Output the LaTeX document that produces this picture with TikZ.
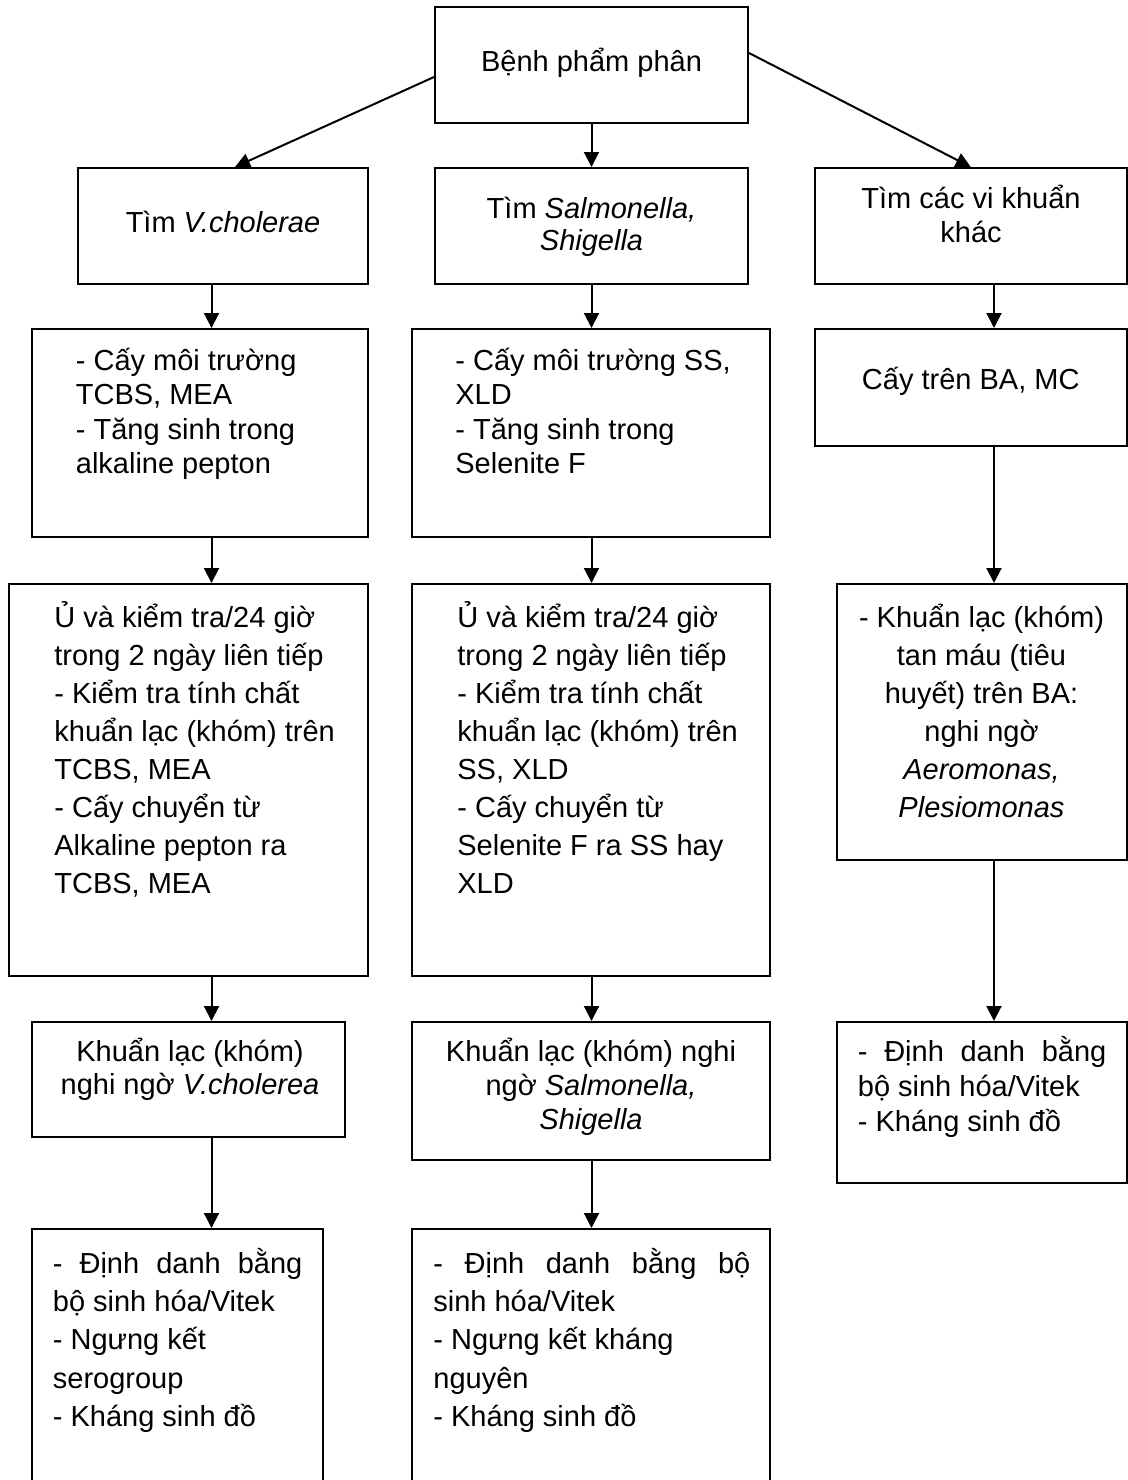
\documentclass[tikz,border=0pt]{standalone}
\usepackage{fontspec}
\setmainfont{Liberation Sans}
\usetikzlibrary{arrows.meta,fit}

\begin{document}
\begin{tikzpicture}[x=0.5pt,y=-0.5pt,
  box/.style={draw, line width=1pt, inner sep=0pt},
  flow/.style={draw, line width=1pt, -{Triangle[length=7.5pt,width=7.5pt]}},
  txt/.style={inner sep=0pt, font=\fontsize{14.5}{#1}\selectfont},
]
\useasboundingbox (0,0) rectangle (1128,1480);
\fill[white] (0,0) rectangle (1128,1480);
\clip (0,0) rectangle (1128,1480);

% column axes for the vertical connectors
\coordinate (colA) at (211.5,0);
\coordinate (colB) at (591.5,0);
\coordinate (colC) at (994,0);

% frames
\node[box, fit={(435,7) (748,123)}] (src) {};
\node[box, fit={(78,168) (368,284)}] (findV) {};
\node[box, fit={(435,168) (748,284)}] (findS) {};
\node[box, fit={(815,168) (1126.5,284)}] (findO) {};
\node[box, fit={(32,329) (368,537)}] (cultV) {};
\node[box, fit={(412,329) (770,537)}] (cultS) {};
\node[box, fit={(815,329) (1126.5,446)}] (cultO) {};
\node[box, fit={(9,584) (368,976)}] (incV) {};
\node[box, fit={(412,584) (770,976)}] (incS) {};
\node[box, fit={(837,584) (1126.5,860)}] (colO) {};
\node[box, fit={(32,1022) (345,1137)}] (colV) {};
\node[box, fit={(412,1022) (770,1160)}] (colS) {};
\node[box, fit={(837,1022) (1126.5,1183)}] (idO) {};
\node[box, fit={(32,1229) (323,1500)}] (idV) {};
\node[box, fit={(412,1229) (770,1500)}] (idS) {};

% texts
\node[txt=19pt, anchor=base] (tSrc) at (591.5,71) {Bệnh phẩm phân};
\node[txt=19pt, anchor=base] (tFindV) at (223,232) {Tìm \textit{V.cholerae}};
\node[txt=16pt, anchor=base] (tFindS) at (591.5,218)
  {\parbox[t]{150pt}{\centering Tìm \textit{Salmonella,}\\\textit{Shigella}}};
\node[txt=17pt, anchor=base] (tFindO) at (971,208)
  {\parbox[t]{150pt}{\centering Tìm các vi khuẩn\\khác}};

\node[txt=17.3pt, anchor=base west] (tCultV) at (75.5,370)
  {\parbox[t]{140pt}{\raggedright - Cấy môi trường\\TCBS, MEA\\- Tăng sinh trong\\alkaline pepton}};
\node[txt=17.3pt, anchor=base west] (tCultS) at (455,370)
  {\parbox[t]{154pt}{\raggedright - Cấy môi trường SS,\\XLD\\- Tăng sinh trong\\Selenite F}};
\node[txt=19pt, anchor=base] (tCultO) at (970.75,389) {Cấy trên BA, MC};

\node[txt=19pt, anchor=base west] (tIncV) at (54,627)
  {\parbox[t]{154pt}{\raggedright Ủ và kiểm tra/24 giờ\\trong 2 ngày liên tiếp\\- Kiểm tra tính chất\\khuẩn lạc (khóm) trên\\TCBS, MEA\\- Cấy chuyển từ\\Alkaline pepton ra\\TCBS, MEA}};
\node[txt=19pt, anchor=base west] (tIncS) at (457,627)
  {\parbox[t]{154pt}{\raggedright Ủ và kiểm tra/24 giờ\\trong 2 ngày liên tiếp\\- Kiểm tra tính chất\\khuẩn lạc (khóm) trên\\SS, XLD\\- Cấy chuyển từ\\Selenite F ra SS hay\\XLD}};
\node[txt=19pt, anchor=base] (tColO) at (981.5,627)
  {\parbox[t]{140pt}{\centering - Khuẩn lạc (khóm)\\tan máu (tiêu\\huyết) trên BA:\\nghi ngờ\\\textit{Aeromonas,}\\\textit{Plesiomonas}}};

\node[txt=16.7pt, anchor=base] (tColV) at (190,1061.5)
  {\parbox[t]{150pt}{\centering Khuẩn lạc (khóm)\\nghi ngờ \textit{V.cholerea}}};
\node[txt=17pt, anchor=base] (tColS) at (591,1061.5)
  {\parbox[t]{170pt}{\centering Khuẩn lạc (khóm) nghi\\ngờ \textit{Salmonella,}\\\textit{Shigella}}};
\node[txt=17.5pt, anchor=base west] (tIdO) at (857.5,1061.5)
  {\parbox[t]{132pt}{\raggedright \makebox[124.25pt][s]{- Định danh bằng}\\bộ sinh hóa/Vitek\\- Kháng sinh đồ}};

\node[txt=19.2pt, anchor=base west] (tIdV) at (52.5,1273)
  {\parbox[t]{130pt}{\raggedright \makebox[124.75pt][s]{- Định danh bằng}\\bộ sinh hóa/Vitek\\- Ngưng kết\\serogroup\\- Kháng sinh đồ}};
\node[txt=19.2pt, anchor=base west] (tIdS) at (433,1273)
  {\parbox[t]{165pt}{\raggedright \makebox[158.5pt][s]{- Định danh bằng bộ}\\sinh hóa/Vitek\\- Ngưng kết kháng\\nguyên\\- Kháng sinh đồ}};

% connectors
\draw[flow] ([yshift=-6pt]src.west) -- ([xshift=6pt]findV.north);
\draw[flow] (src.south) -- (findS.north);
\draw[flow] ([yshift=6pt]src.east) -- (findO.north);

\draw[flow] (findV.south -| colA) -- (cultV.north -| colA);
\draw[flow] (cultV.south -| colA) -- (incV.north -| colA);
\draw[flow] (incV.south -| colA) -- (colV.north -| colA);
\draw[flow] (colV.south -| colA) -- (idV.north -| colA);

\draw[flow] (findS.south -| colB) -- (cultS.north -| colB);
\draw[flow] (cultS.south -| colB) -- (incS.north -| colB);
\draw[flow] (incS.south -| colB) -- (colS.north -| colB);
\draw[flow] (colS.south -| colB) -- (idS.north -| colB);

\draw[flow] (findO.south -| colC) -- (cultO.north -| colC);
\draw[flow] (cultO.south -| colC) -- (colO.north -| colC);
\draw[flow] (colO.south -| colC) -- (idO.north -| colC);
\end{tikzpicture}
\end{document}
